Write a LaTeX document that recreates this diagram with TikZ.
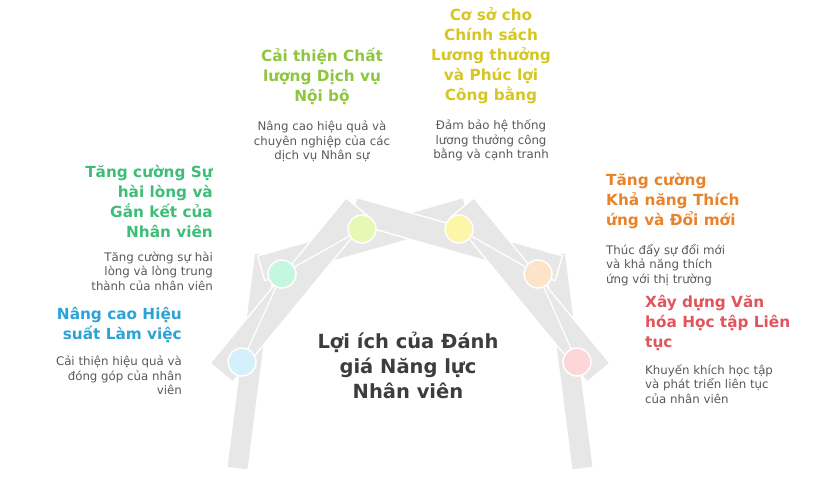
\documentclass[tikz,border=0pt]{standalone}
\usepackage{fontspec}
\setmainfont{DejaVu Sans}
\usetikzlibrary{positioning}
\definecolor{pk}{HTML}{E7E7E7}
\definecolor{txt}{HTML}{595959}
\definecolor{ctr}{HTML}{3D3D3D}
\definecolor{grn}{HTML}{3DBD78}
\definecolor{blu}{HTML}{2BA3D6}
\definecolor{lim}{HTML}{8DC63F}
\definecolor{yel}{HTML}{D6C622}
\definecolor{org}{HTML}{E8832A}
\definecolor{rd}{HTML}{E2545C}
\definecolor{fb}{HTML}{D3F0FC}
\definecolor{fg}{HTML}{C5F6DE}
\definecolor{fl}{HTML}{E6F9B4}
\definecolor{fy}{HTML}{FDF6A8}
\definecolor{fo}{HTML}{FDE3C8}
\definecolor{fr}{HTML}{FCD6D8}

\begin{document}
\begin{tikzpicture}[x=1pt,y=-1pt,
  c/.style={circle,draw=white,line width=1.5pt,minimum size=28pt,inner sep=0pt},
  t/.style={font=\bfseries\fontsize{15.3}{20}\selectfont,inner sep=0pt},
  d/.style={font=\fontsize{11.8}{14.5}\selectfont,text=txt,inner sep=0pt}]
  \useasboundingbox (0,0) rectangle (830,480);

  % planks of the arch
  \foreach \p/\q/\w in {{(237.5,468)}/{(265,255)}/20,{(582.5,468)}/{(555,255)}/20,
      {(262,268)}/{(466,210)}/24,{(558,268)}/{(354,210)}/24,
      {(222,372)}/{(357,208)}/28,{(598,372)}/{(463,208)}/28}{
    \draw[white,line width=\w+3,shorten <=-1.5,shorten >=-1.5] \p -- \q;
    \draw[pk,line width=\w] \p -- \q;
  }

  \node[c,fill=fb] (cb) at (242,362) {};
  \node[c,fill=fg] (cg) at (282,274) {};
  \node[c,fill=fl] (cl) at (362,229) {};
  \node[c,fill=fy] (cy) at (459,229) {};
  \node[c,fill=fo] (co) at (538,274) {};
  \node[c,fill=fr] (cr) at (577,362) {};

  \draw[white,line width=1.2pt] (cb) -- (cg);
  \draw[white,line width=1.2pt] (cg) -- (cl);
  \draw[white,line width=1.2pt] (cy) -- (co);
  \draw[white,line width=1.2pt] (co) -- (cr);

  \node[font=\bfseries\fontsize{19.5}{25}\selectfont,text=ctr,align=center] (mid) at (408,365) {Lợi ích của Đánh\\giá Năng lực\\Nhân viên};

  \node[t,text=grn,align=right,anchor=north east] (g1) at (213,165) {Tăng cường Sự\\hài lòng và\\Gắn kết của\\Nhân viên};
  \node[d,align=right,below=14pt,anchor=north east] (g2) at (g1.south east) {Tăng cường sự hài\\lòng và lòng trung\\thành của nhân viên};
  \node[t,text=blu,align=right,anchor=north east] (b1) at (182,307) {Nâng cao Hiệu\\suất Làm việc};
  \node[d,align=right,below=13pt,anchor=north east] (b2) at (b1.south east) {Cải thiện hiệu quả và\\đóng góp của nhân\\viên};
  \node[t,text=lim,align=center,anchor=north] (l1) at (322,48) {Cải thiện Chất\\lượng Dịch vụ\\Nội bộ};
  \node[d,align=center,below=16pt] (l2) at (l1.south) {Nâng cao hiệu quả và\\chuyên nghiệp của các\\dịch vụ Nhân sự};
  \node[t,text=yel,align=center,anchor=north] (y1) at (491,7) {Cơ sở cho\\Chính sách\\Lương thưởng\\và Phúc lợi\\Công bằng};
  \node[d,align=center,below=16pt] (y2) at (y1.south) {Đảm bảo hệ thống\\lương thưởng công\\bằng và cạnh tranh};
  \node[t,text=org,align=left,anchor=north west] (o1) at (606,173) {Tăng cường\\Khả năng Thích\\ứng và Đổi mới};
  \node[d,align=left,below=15pt,anchor=north west] (o2) at (o1.south west) {Thúc đẩy sự đổi mới\\và khả năng thích\\ứng với thị trường};
  \node[t,text=rd,align=left,anchor=north west] (r1) at (645,295) {Xây dựng Văn\\hóa Học tập Liên\\tục};
  \node[d,align=left,below=13pt,anchor=north west] (r2) at (r1.south west) {Khuyến khích học tập\\và phát triển liên tục\\của nhân viên};
\end{tikzpicture}
\end{document}
